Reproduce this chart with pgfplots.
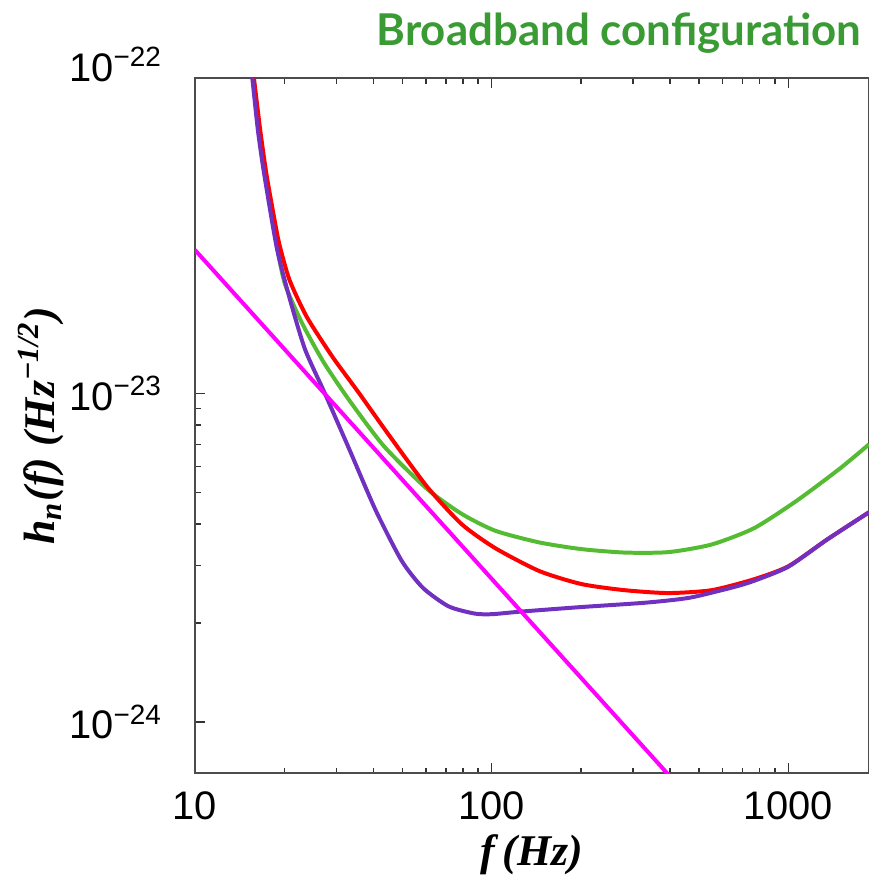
\documentclass[border=0pt]{standalone}
\usepackage{pgfplots}
\pgfplotsset{compat=1.18}
\usepackage{fontspec}
\setmainfont{Liberation Sans}
\newfontfamily\tnr{Liberation Serif}
\newfontfamily\titlefont{Lato}
\definecolor{cGreen}{HTML}{55BB33}
\definecolor{cRed}{HTML}{FF0000}
\definecolor{cPurple}{HTML}{7030C0}
\definecolor{cMagenta}{HTML}{FF00FF}
\definecolor{cTitle}{HTML}{3A9B35}
\begin{document}
\begin{tikzpicture}
\begin{axis}[
    scale only axis,
    width=168.5bp, height=173.75bp,
    xmode=log, ymode=log,
    xmin=10, xmax=1871,
    ymin=7e-25, ymax=9.1e-23,
    xtick={10,100,1000},
    xticklabels={10,100,1000},
    ytick={1e-24,1e-23},
    yticklabels={10\textsuperscript{\char"2212 24},10\textsuperscript{\char"2212 23}},
    tick label style={font=\fontsize{10}{12}\selectfont},
    yticklabel style={xshift=-4.5bp},
    xticklabel style={yshift=-1bp},
    axis line style={black!70, line width=0.5pt},
    tick style={black!80, line width=0.4pt},
    major tick length=2.5bp, minor tick length=1.4bp,
    tick align=inside,
    xtick pos=both, ytick pos=left,
    xlabel={\tnr\bfseries\itshape f\,(Hz)},
    ylabel={\tnr\bfseries\itshape h\textsubscript{n}(f) (Hz\textsuperscript{\char"2212 1/2})},
    label style={font=\fontsize{11}{13}\selectfont},
    xlabel style={yshift=3bp},
    ylabel style={yshift=-5.5bp},
    every axis plot/.append style={line width=1pt, smooth, tension=0.4},
]
% green
\addplot[cGreen] coordinates {
(15.3,1.1e-22) (15.7,9.1e-23) (16.5,6.2e-23) (17.3,4.6e-23) (18.9,2.8e-23) (20.1,2.15e-23)
(23.0,1.63e-23) (27.2,1.24e-23) (33.2,9.5e-24) (43.4,6.9e-24) (60.6,5.12e-24)
(79.3,4.3e-24) (103,3.82e-24) (145,3.52e-24) (201,3.36e-24) (281,3.28e-24)
(394,3.29e-24) (551,3.47e-24) (766,3.89e-24) (1069,4.72e-24) (1493,5.91e-24)
(1871,7.0e-24)};
% red
\addplot[cRed] coordinates {
(15.4,1.1e-22) (15.8,9.1e-23) (16.6,6.3e-23) (17.4,4.66e-23) (18.3,3.6e-23) (19.2,2.87e-23) (20.8,2.22e-23)
(23.8,1.71e-23) (29.1,1.29e-23) (35.5,1.01e-23) (44.9,7.5e-24) (60.6,5.2e-24)
(79.3,4.0e-24) (103,3.38e-24) (145,2.88e-24) (201,2.63e-24) (281,2.52e-24)
(394,2.47e-24) (551,2.52e-24) (766,2.72e-24) (1000,2.98e-24) (1349,3.59e-24)
(1871,4.35e-24)};
% purple
\addplot[cPurple] coordinates {
(15.2,1.1e-22) (15.6,9.1e-23) (16.3,6.3e-23) (17.1,4.66e-23) (18.9,2.75e-23) (20.9,1.93e-23)
(23.5,1.36e-23) (27.4,1.0e-23) (33.2,6.73e-24) (40.6,4.42e-24) (49.7,3.10e-24)
(58.7,2.56e-24) (71.6,2.25e-24) (87.5,2.14e-24) (100,2.13e-24) (126,2.17e-24)
(201,2.24e-24) (332,2.31e-24) (464,2.39e-24) (649,2.57e-24) (766,2.69e-24) (1000,2.97e-24)
(1349,3.59e-24) (1871,4.35e-24)};
% magenta
\addplot[cMagenta, smooth=false] coordinates {
(10,2.73e-23) (100,2.73e-24) (1000,2.73e-25)};
\coordinate (sw) at (rel axis cs:0,0);
\coordinate (ne) at (rel axis cs:1,1);
\coordinate (t22) at (axis cs:10,1e-22);
\end{axis}
\node[anchor=east, font=\fontsize{10}{12}\selectfont, inner sep=0.333em] at ([xshift=-4.5bp]t22) {10\textsuperscript{\char"2212 22}};
\node[anchor=north east, inner sep=0pt, text=cTitle, font=\titlefont\bfseries\fontsize{11}{13}\selectfont] at ([xshift=-1.75bp,yshift=16.5bp]ne) {Broadband configuration};
\pgfresetboundingbox
\path ([xshift=-48.75bp,yshift=-26bp]sw) rectangle ([yshift=19.5bp]ne);
\end{tikzpicture}
\end{document}
